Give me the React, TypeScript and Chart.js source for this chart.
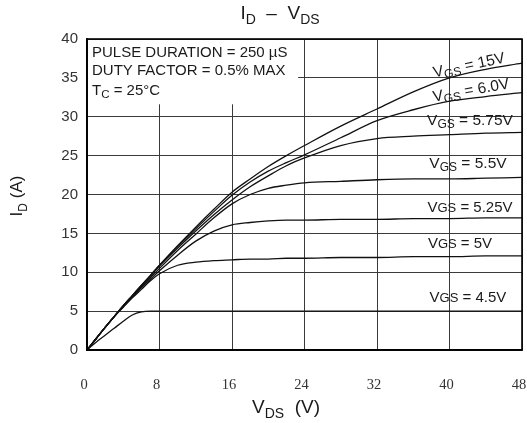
import { useEffect, useRef } from "react";
import { Chart, registerables } from "chart.js";
Chart.register(...registerables);

// ---- data ----
const vdsPoints = [0, 1, 2, 3, 4, 5, 6, 7, 8, 10, 12, 14, 16, 18, 20, 22, 24, 28, 32, 36, 40, 44, 48];
const id15V = [0, 1.45, 2.9, 4.3, 5.7, 7.0, 8.3, 9.6, 10.9, 13.4, 15.8, 18.1, 20.3, 22.0, 23.6, 25.0, 26.3, 28.8, 31.0, 33.2, 35.0, 36.1, 36.9];
const id6V = [0, 1.45, 2.9, 4.3, 5.7, 7.0, 8.3, 9.6, 10.9, 13.3, 15.6, 17.8, 19.9, 21.6, 23.0, 24.1, 25.1, 27.3, 29.5, 30.9, 32.0, 32.6, 33.1];
const id575V = [0, 1.45, 2.9, 4.3, 5.7, 7.0, 8.3, 9.5, 10.8, 13.1, 15.3, 17.4, 19.3, 21.0, 22.4, 23.7, 24.7, 26.3, 27.2, 27.5, 27.7, 27.9, 28.0];
const id55V = [0, 1.45, 2.9, 4.3, 5.6, 6.9, 8.1, 9.3, 10.5, 12.8, 14.9, 17.0, 18.8, 20.0, 20.8, 21.2, 21.5, 21.7, 21.9, 22.0, 22.0, 22.1, 22.2];
const id525V = [0, 1.45, 2.9, 4.3, 5.6, 6.8, 8.0, 9.1, 10.2, 12.2, 14.0, 15.3, 16.1, 16.4, 16.6, 16.7, 16.7, 16.8, 16.8, 16.9, 16.9, 17.0, 17.0];
const id5V = [0, 1.45, 2.9, 4.3, 5.5, 6.7, 7.8, 8.9, 9.8, 10.9, 11.3, 11.5, 11.6, 11.7, 11.7, 11.8, 11.8, 11.9, 11.9, 12.0, 12.0, 12.1, 12.1];
const id45V = [0, 1.0, 1.9, 2.8, 3.7, 4.5, 4.9, 5.0, 5.0, 5.0, 5.0, 5.0, 5.0, 5.0, 5.0, 5.0, 5.0, 5.0, 5.0, 5.0, 5.0, 5.0, 5.0];

const seriesValues = [id15V, id6V, id575V, id55V, id525V, id5V, id45V];
const seriesNames = ["15V", "6.0V", "5.75V", "5.5V", "5.25V", "5V", "4.5V"];
const xTickValues = [0, 8, 16, 24, 32, 40, 48];
const yTickValues = [0, 5, 10, 15, 20, 25, 30, 35, 40];
const infoLines = ["PULSE DURATION = 250 µS", "DUTY FACTOR = 0.5% MAX"];
const caseTemp = "25°C";

// ---- annotation placement (data coordinates) ----
const labelPlacement = [
  { v: 42.15, i: 36.66, rot: -12, drop: true },
  { v: 42.37, i: 33.44, rot: -10, drop: true },
  { v: 42.26, i: 29.58, rot: 0, drop: true },
  { v: 42.04, i: 24.05, rot: 0, drop: true },
  { v: 42.26, i: 18.39, rot: 0, drop: false },
  { v: 41.16, i: 13.76, rot: 0, drop: false },
  { v: 42.04, i: 6.82, rot: 0, drop: false },
];
const infoBox = { vRight: 23.3, iBottom: 31.6 };

const SANS = "'Liberation Sans', Arial, sans-serif";
const SERIF = "'Liberation Serif', 'Times New Roman', serif";

type Part = { t: string; size: number; dy: number };

function richWidth(ctx: CanvasRenderingContext2D, parts: Part[]) {
  let w = 0;
  for (const p of parts) {
    ctx.font = `${p.size}px ${SANS}`;
    w += ctx.measureText(p.t).width;
  }
  return w;
}

function drawRich(ctx: CanvasRenderingContext2D, parts: Part[], x: number, y: number) {
  let cx = x;
  ctx.textAlign = "left";
  ctx.textBaseline = "alphabetic";
  for (const p of parts) {
    ctx.font = `${p.size}px ${SANS}`;
    ctx.fillText(p.t, cx, y + p.dy);
    cx += ctx.measureText(p.t).width;
  }
}

const decorPlugin = {
  id: "decor",
  afterDraw(chart: any) {
    const { ctx, chartArea: a, scales } = chart;
    const xs = scales.x;
    const ys = scales.y;
    ctx.save();

    // info box (white, covers grid)
    const bx2 = xs.getPixelForValue(infoBox.vRight);
    const by2 = ys.getPixelForValue(infoBox.iBottom);
    ctx.fillStyle = "#fff";
    ctx.fillRect(a.left + 1, a.top + 1, bx2 - a.left - 1, by2 - a.top - 1);

    ctx.fillStyle = "#1a1a1a";
    ctx.font = `15px ${SANS}`;
    ctx.textAlign = "left";
    ctx.textBaseline = "alphabetic";
    ctx.fillText(infoLines[0], a.left + 5, a.top + 18);
    ctx.fillText(infoLines[1], a.left + 5, a.top + 36);
    drawRich(
      ctx,
      [
        { t: "T", size: 15, dy: 0 },
        { t: "C", size: 11.5, dy: 3 },
        { t: " = " + caseTemp, size: 15, dy: 0 },
      ],
      a.left + 5,
      a.top + 56
    );

    // frame
    ctx.strokeStyle = "#000";
    ctx.lineWidth = 1.6;
    ctx.strokeRect(a.left, a.top, a.right - a.left, a.bottom - a.top);

    // curve labels
    ctx.fillStyle = "#1a1a1a";
    seriesNames.forEach((name, k) => {
      const pl = labelPlacement[k];
      const parts: Part[] = pl.drop
        ? [
            { t: "V", size: 15.5, dy: 0 },
            { t: "GS", size: 12, dy: 3 },
            { t: " = " + name, size: 15.5, dy: 0 },
          ]
        : [
            { t: "V", size: 15, dy: 0 },
            { t: "GS", size: 13, dy: 0 },
            { t: " = " + name, size: 15, dy: 0 },
          ];
      const w = richWidth(ctx, parts);
      const px = xs.getPixelForValue(pl.v);
      const py = ys.getPixelForValue(pl.i);
      ctx.save();
      ctx.translate(px, py);
      ctx.rotate((pl.rot * Math.PI) / 180);
      drawRich(ctx, parts, -w / 2, 5);
      ctx.restore();
    });

    // chart title
    ctx.fillStyle = "#1a1a1a";
    const tParts: Part[] = [
      { t: "I", size: 19, dy: 0 },
      { t: "D", size: 14, dy: 5 },
      { t: "  –  ", size: 19, dy: 0 },
      { t: "V", size: 19, dy: 0 },
      { t: "DS", size: 14, dy: 5 },
    ];
    const tw = richWidth(ctx, tParts);
    drawRich(ctx, tParts, 280 - tw / 2, 19);

    // x axis title
    const xParts: Part[] = [
      { t: "V", size: 19, dy: 0 },
      { t: "DS", size: 14, dy: 5 },
      { t: "  (V)", size: 19, dy: 0 },
    ];
    const xw = richWidth(ctx, xParts);
    drawRich(ctx, xParts, 286 - xw / 2, 413);

    // y axis title
    const yParts: Part[] = [
      { t: "I", size: 17, dy: 0 },
      { t: "D", size: 12, dy: 5 },
      { t: " (A)", size: 17, dy: 0 },
    ];
    const yw = richWidth(ctx, yParts);
    ctx.save();
    ctx.translate(22, 196);
    ctx.rotate(-Math.PI / 2);
    drawRich(ctx, yParts, -yw / 2, 0);
    ctx.restore();

    ctx.restore();
  },
};

export default function App() {
  const ref = useRef<HTMLCanvasElement>(null);
  useEffect(() => {
    const canvas = ref.current!;
    const chart = new Chart(canvas, {
      type: "line",
      data: {
        datasets: seriesValues.map((vals, k) => ({
          label: seriesNames[k],
          data: vdsPoints.map((v, i) => ({ x: v, y: vals[i] })),
          borderColor: "#111",
          borderWidth: 1.3,
          pointRadius: 0,
          fill: false,
          cubicInterpolationMode: "monotone" as const,
        })),
      },
      options: {
        animation: false,
        responsive: false,
        layout: { padding: { top: 39, right: 5, left: 0, bottom: 0 } },
        plugins: { legend: { display: false }, tooltip: { enabled: false }, title: { display: false } },
        scales: {
          x: {
            type: "linear",
            min: 0,
            max: 48,
            afterBuildTicks: (s: any) => {
              s.ticks = xTickValues.map((v) => ({ value: v }));
            },
            afterFit: (s: any) => {
              s.height = 73;
              s.paddingLeft = 0;
              s.paddingRight = 0;
            },
            grid: { color: "#3a3a3a", lineWidth: 1, drawTicks: false },
            border: { display: true, color: "#000", width: 1.6 },
            ticks: {
              font: { family: SERIF, size: 14.5 },
              color: "#333",
              padding: 26,
              labelOffset: -3,
              maxRotation: 0,
              autoSkip: false,
            },
          },
          y: {
            type: "linear",
            min: 0,
            max: 40,
            afterBuildTicks: (s: any) => {
              s.ticks = yTickValues.map((v) => ({ value: v }));
            },
            afterFit: (s: any) => {
              s.width = 87;
              s.paddingTop = 0;
              s.paddingBottom = 0;
            },
            grid: { color: "#3a3a3a", lineWidth: 1, drawTicks: false },
            border: { display: true, color: "#000", width: 1.6 },
            ticks: {
              font: { family: SANS, size: 15 },
              color: "#333",
              padding: 9,
              autoSkip: false,
            },
          },
        },
      },
      plugins: [decorPlugin],
    });
    return () => chart.destroy();
  }, []);
  return (
    <div style={{ position: "absolute", left: 0, top: 0, width: 527, height: 423, background: "#fff" }}>
      <canvas ref={ref} width={527} height={423} style={{ width: 527, height: 423, display: "block" }} />
    </div>
  );
}
